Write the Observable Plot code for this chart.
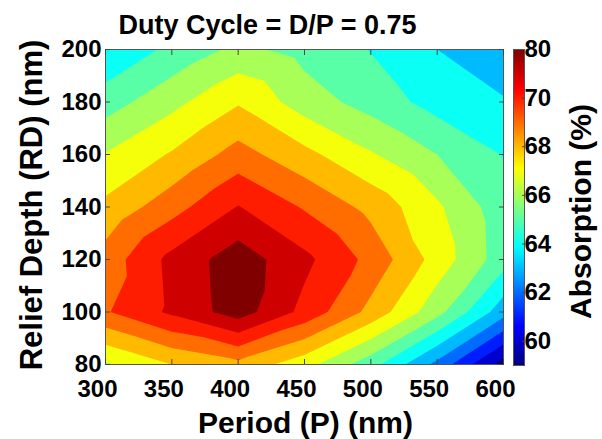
<!DOCTYPE html>
<html>
<head>
<meta charset="utf-8">
<script src="https://cdn.jsdelivr.net/npm/d3@7"></script>
<script src="https://cdn.jsdelivr.net/npm/@observablehq/plot@0.6"></script>
<style>
  body { margin: 0; background: white; }
  #wrap { position: relative; width: 602px; height: 439px; overflow: hidden; }
  #wrap svg { position: absolute; top: 0; }
</style>
</head>
<body>
<div id="wrap"></div>
<script>
// ---- data ----
const periods = [300, 350, 400, 450, 500, 550, 600];          // Period (P) (nm)
const depths  = [200, 180, 160, 140, 120, 100, 80];           // Relief Depth (RD) (nm)
const absorption = [                                           // rows follow depths, columns follow periods
  [64.10, 65.25, 66.25, 65.65, 64.95, 64.00, 63.20],
  [65.53, 66.70, 67.90, 66.50, 65.60, 64.60, 64.10],
  [67.05, 68.10, 69.40, 68.30, 67.10, 66.00, 64.95],
  [68.25, 69.60, 71.05, 69.90, 68.70, 67.17, 65.40],
  [69.43, 71.30, 72.55, 71.25, 69.70, 67.60, 65.45],
  [69.90, 71.20, 72.50, 70.70, 68.70, 66.35, 63.40],
  [66.85, 68.00, 68.70, 67.40, 65.40, 62.70, 59.50]
];
const levels = [59, 60, 61, 62, 63, 64, 65, 66, 67, 68, 69, 70, 71, 72];
const xTicks = [300, 350, 400, 450, 500, 550, 600];
const yTicks = [80, 100, 120, 140, 160, 180, 200];
const cbTicks = [60, 62, 64, 66, 68, 70, 72];
const cbLabels = ["60", "62", "64", "66", "68", "70", "80"];
const titleText = "Duty Cycle = D/P = 0.75";
const xLabel = "Period (P) (nm)";
const yLabel = "Relief Depth (RD) (nm)";
const cLabel = "Absorption (%)";

// build the table
const table = [];
depths.forEach((d, i) => periods.forEach((p, j) => table.push({P: p, RD: d, A: absorption[i][j]})));

// MATLAB "jet" colour map over the colour bar range
const cMin = 59, cMax = 72;
const jetStops = [0, 0.125, 0.375, 0.625, 0.875, 1];
const jetColors = ["#000080", "#0000ff", "#00ffff", "#ffff00", "#ff0000", "#800000"];
const colorScale = {
  type: "linear",
  domain: jetStops.map(t => cMin + t * (cMax - cMin)),
  range: jetColors,
  interpolate: "rgb",
  clamp: true
};

const font = "'Liberation Sans', Arial, sans-serif";
const blank = () => "";

const main = Plot.plot({
  width: 602, height: 439,
  marginLeft: 105, marginRight: 99, marginTop: 49, marginBottom: 75,
  style: {fontFamily: font, fontWeight: "bold", fontSize: "24px", color: "black", background: "transparent"},
  x: {domain: [300, 600]},
  y: {domain: [80, 200]},
  color: colorScale,
  marks: [
    Plot.contour(table, {x: "P", y: "RD", fill: "A", thresholds: levels, interpolate: "barycentric",
      x1: 300, x2: 600, y1: 80, y2: 200, pixelSize: 1}),
    Plot.frame({stroke: "#555", strokeWidth: 1}),
    Plot.axisX({anchor: "bottom", ticks: xTicks, tickSize: 0, tickPadding: 15, dx: -8, label: null, fontSize: 24, tickFormat: d => String(d)}),
    Plot.axisX({anchor: "bottom", ticks: xTicks, tickSize: -5, tickFormat: blank, label: null, stroke: "#444"}),
    Plot.axisX({anchor: "top", ticks: xTicks, tickSize: -5, tickFormat: blank, label: null, stroke: "#444"}),
    Plot.axisY({anchor: "left", ticks: yTicks, tickSize: 0, tickPadding: 4, label: null, fontSize: 24, tickFormat: d => String(d)}),
    Plot.axisY({anchor: "left", ticks: yTicks, tickSize: -5, tickFormat: blank, label: null, stroke: "#444"}),
    Plot.axisY({anchor: "right", ticks: yTicks, tickSize: -5, tickFormat: blank, label: null, stroke: "#444"}),
    Plot.text([titleText], {text: d => d, frameAnchor: "top", textAnchor: "middle", lineAnchor: "middle", dy: -24, dx: -37, fontSize: 27, fontWeight: "bold"}),
    Plot.text([xLabel], {text: d => d, frameAnchor: "bottom", textAnchor: "middle", lineAnchor: "middle", dy: 59, dx: 1, fontSize: 30, fontWeight: "bold"}),
    Plot.text([yLabel], {text: d => d, frameAnchor: "left", textAnchor: "middle", lineAnchor: "middle", rotate: -90, dx: -73, dy: -2, fontSize: 31, fontWeight: "bold"})
  ]
});

const bar = Plot.plot({
  width: 112, height: 439,
  marginLeft: 23, marginRight: 78, marginTop: 49, marginBottom: 74,
  style: {fontFamily: font, fontWeight: "bold", fontSize: "24px", color: "black", background: "transparent"},
  x: {domain: [0, 1], axis: null},
  y: {domain: [cMin, cMax]},
  color: colorScale,
  marks: [
    Plot.raster({fill: (x, y) => y, x1: 0, x2: 1, y1: cMin, y2: cMax, pixelSize: 1}),
    Plot.frame({stroke: "#555", strokeWidth: 1}),
    Plot.axisY({anchor: "right", ticks: cbTicks, tickSize: 0, tickPadding: 0, label: null, fontSize: 24,
      tickFormat: d => cbLabels[cbTicks.indexOf(d)]}),
    Plot.axisY({anchor: "right", ticks: cbTicks.slice(0, -1), tickSize: -3, tickFormat: blank, label: null, stroke: "#444"}),
    Plot.text([cLabel], {text: d => d, frameAnchor: "right", textAnchor: "middle", lineAnchor: "middle", rotate: -90, dx: 57, dy: 4, fontSize: 30, fontWeight: "bold"})
  ]
});

const wrap = document.getElementById("wrap");
main.style.left = "0px";
bar.style.left = "490px";
wrap.appendChild(main);
wrap.appendChild(bar);
</script>
</body>
</html>
